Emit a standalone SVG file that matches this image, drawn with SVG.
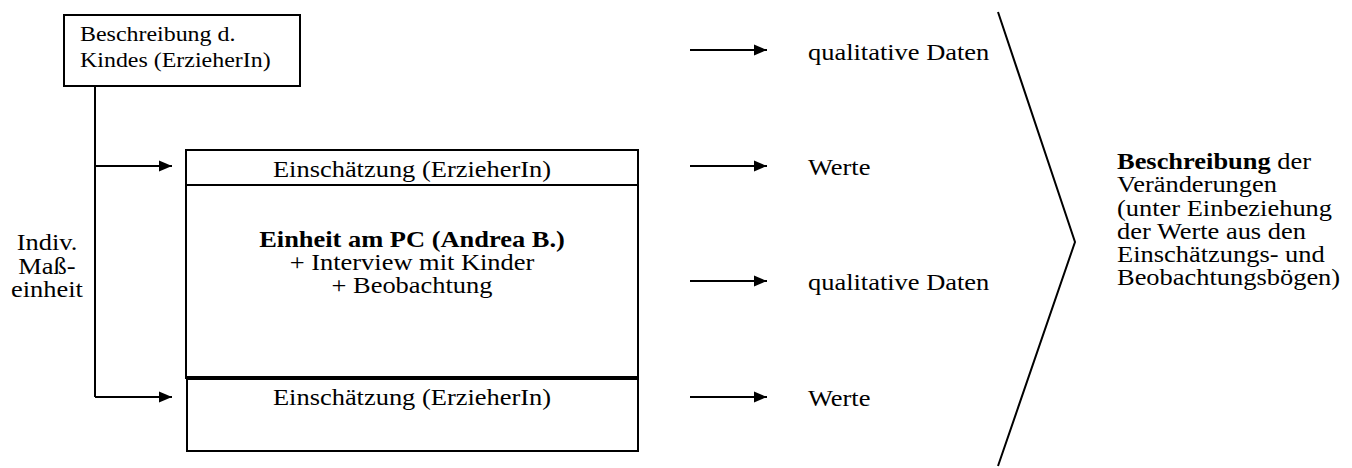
<svg xmlns="http://www.w3.org/2000/svg" width="1352" height="468" viewBox="0 0 1352 468">
<style>
text{font-family:"Liberation Serif","Times New Roman",serif;font-size:23px;fill:#000}
.s{font-size:21px}
.b{font-weight:bold}
.c{text-anchor:middle}
.box{fill:#fff;stroke:#000;stroke-width:2}
.ln{fill:none;stroke:#000;stroke-width:2}
</style>
<defs>
<marker id="ah" markerUnits="userSpaceOnUse" markerWidth="14" markerHeight="12" refX="13" refY="6" orient="auto">
<path d="M0,0.5 L13,6 L0,11.5 Z" fill="#000"/>
</marker>
</defs>
<rect width="1352" height="468" fill="#fff"/>
<g id="connectors">
<path class="ln" d="M95,86 V397"/>
<path class="ln" d="M95,166 H172" marker-end="url(#ah)"/>
<path class="ln" d="M95,397 H172" marker-end="url(#ah)"/>
<path class="ln" d="M690,50 H767" marker-end="url(#ah)"/>
<path class="ln" d="M690,166 H767" marker-end="url(#ah)"/>
<path class="ln" d="M690,281 H767" marker-end="url(#ah)"/>
<path class="ln" d="M690,397 H767" marker-end="url(#ah)"/>
<path class="ln" d="M998,12 L1075,242 L998,466"/>
</g>
<g id="node-beschreibung-kind">
<rect class="box" x="64" y="15" width="236" height="71"/>
<text class="s" transform="translate(80,41) scale(1.14,1)">Beschreibung d.</text>
<text class="s" transform="translate(80,67) scale(1.14,1)">Kindes (ErzieherIn)</text>
</g>
<g id="node-einschaetzung-1">
<rect class="box" x="186" y="150" width="452" height="35"/>
<text class="c" transform="translate(412,177) scale(1.15,1)">Einschätzung (ErzieherIn)</text>
</g>
<g id="node-einheit-pc">
<rect class="box" x="186" y="185" width="452" height="193"/>
<text class="c b" transform="translate(412,247) scale(1.15,1)">Einheit am PC (Andrea B.)</text>
<text class="c" transform="translate(412,270) scale(1.15,1)">+ Interview mit Kinder</text>
<text class="c" transform="translate(412,293) scale(1.15,1)">+ Beobachtung</text>
</g>
<g id="node-einschaetzung-2">
<rect class="box" x="187" y="378" width="451" height="73"/>
<line x1="186" y1="378" x2="638" y2="378" stroke="#000" stroke-width="4"/>
<text class="c" transform="translate(412,405) scale(1.15,1)">Einschätzung (ErzieherIn)</text>
</g>
<g id="label-indiv">
<text class="c" transform="translate(47,250) scale(1.15,1)">Indiv.</text>
<text class="c" transform="translate(47,274) scale(1.15,1)">Maß-</text>
<text class="c" transform="translate(47,297) scale(1.15,1)">einheit</text>
</g>
<g id="label-q1"><text transform="translate(808,60) scale(1.15,1)">qualitative Daten</text></g>
<g id="label-w1"><text transform="translate(808,175) scale(1.15,1)">Werte</text></g>
<g id="label-q2"><text transform="translate(808,290) scale(1.15,1)">qualitative Daten</text></g>
<g id="label-w2"><text transform="translate(808,406) scale(1.15,1)">Werte</text></g>
<g id="node-result">
<text transform="translate(1117,169) scale(1.15,1)"><tspan class="b">Beschreibung</tspan> der</text>
<text transform="translate(1117,192) scale(1.15,1)">Veränderungen</text>
<text transform="translate(1117,216) scale(1.15,1)">(unter Einbeziehung</text>
<text transform="translate(1117,239) scale(1.15,1)">der Werte aus den</text>
<text transform="translate(1117,262) scale(1.15,1)">Einschätzungs- und</text>
<text transform="translate(1117,285) scale(1.15,1)">Beobachtungsbögen)</text>
</g>
</svg>
